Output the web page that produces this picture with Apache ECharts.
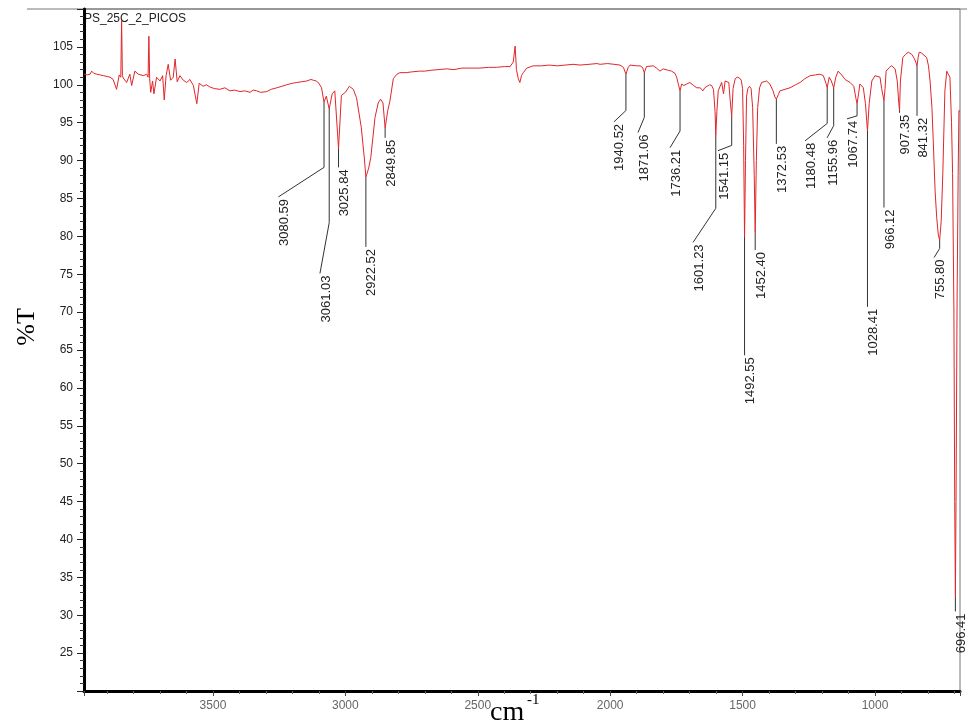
<!DOCTYPE html>
<html>
<head>
<meta charset="utf-8">
<script src="https://cdn.jsdelivr.net/npm/echarts@6/dist/echarts.min.js"></script>
<style>html,body{margin:0;padding:0;background:#fff;}#chart{width:967px;height:727px;}</style>
</head>
<body>
<div id="chart"></div>
<script>
// ---------- DATA ----------
var chartTitle = 'PS_25C_2_PICOS';
var yAxisTitle = '%T';
var xAxisTitleMain = 'cm';
var xAxisTitleSup = '-1';

var wavenumbers = [
3987,3975,3964,3958,3950,3939,3926,3914,3900,3889,3877,3864,3854,3848,3845,3842,3839,3826,3814,3807,
3795,3782,3763,3750,3745,3742,3739,3735,3728,3723,3713,3700,3690,3684,3677,3669,3660,3650,3643,3635,
3625,3612,3599,3587,3574,3561,3552,3537,3525,3511,3495,3474,3455,3436,3418,3398,3380,3360,3348,3335,
3320,3297,3280,3259,3240,3222,3200,3184,3165,3146,3130,3121,3110,3100,3090,3080.59,3072,3061.03,3050,3040,
3025.84,3015,3000,2985,2970,2958,2940,2928,2922.52,2912,2904,2888,2876,2867,2858,2849.85,2840,2832,2819,2805,
2794,2770,2750,2720,2700,2680,2650,2617,2590,2560,2530,2492,2460,2430,2400,2378,2366,2359,2354,2347,
2341,2335,2328,2315,2291,2260,2230,2200,2170,2140,2114,2080,2050,2038,2010,1985,1963,1950,1940.52,1932,
1925,1900,1887,1878,1871.06,1863,1856,1837,1825,1812,1800,1793,1780,1768,1755,1749,1742,1736.21,1730,1722,
1711,1699,1685,1673,1660,1650,1643,1636,1625,1617,1610,1604,1601.23,1597,1592,1585,1579,1572,1566,1560,
1552,1547,1541.15,1536,1528,1520,1512,1505,1500,1496,1492.55,1489,1485,1480,1474,1468,1462,1456,1452.40,1448,
1443,1436,1428,1409,1397,1385,1378,1372.53,1365,1359,1340,1321,1300,1283,1265,1245,1225,1208,1195,1185,
1180.48,1173,1165,1155.96,1148,1139,1126,1113,1094,1080,1072,1067.74,1062,1057,1050,1044,1036,1028.41,1022,1012,
1000,994,981,975,966.12,962,958,945,937,924,916,910,907.35,904,895,885,874,861,852,845,
841.32,837,833,825,818,805,798,792,785,780,773,767,761,755.80,750,744,736,729,722,717,
711,707,702,699,696.41,694,690,686,683,679
];
var transmittance = [
101.4,101.3,101.4,101.8,101.5,101.4,101.3,101.2,101.1,101.0,100.7,99.4,101.3,101.0,108.5,101.2,100.9,100.3,101.4,99.9,
101.8,101.4,101.2,101.4,101.0,106.4,100.8,99.0,100.5,98.8,101.0,100.5,101.2,98.0,101.2,102.7,100.6,101.0,103.4,100.4,
101.2,100.6,100.3,100.7,99.9,97.5,100.2,99.8,100.0,99.7,99.5,99.4,99.6,99.2,99.3,99.1,99.2,99.0,99.3,99.2,
99.0,99.1,99.4,99.6,99.8,100.0,100.2,100.3,100.4,100.5,100.7,100.6,100.5,100.2,99.6,97.7,98.5,96.8,98.8,99.2,
91.6,98.6,99.0,99.8,99.4,98.3,94.4,90.2,87.8,89.0,90.4,95.7,97.6,98.1,97.6,94.3,96.6,97.8,100.8,101.4,
101.6,101.6,101.7,101.8,101.8,101.9,102.0,102.1,102.0,102.2,102.2,102.2,102.3,102.3,102.4,102.4,103.0,105.1,102.0,100.8,
100.3,101.2,101.6,102.2,102.5,102.5,102.6,102.5,102.6,102.7,102.6,102.7,102.8,102.7,102.8,102.7,102.6,102.3,101.4,102.3,
102.6,102.5,102.5,102.3,101.6,102.4,102.6,102.5,102.2,101.8,102.1,102.1,101.9,101.8,101.5,101.0,100.0,99.2,100.1,99.9,
100.1,100.3,99.9,99.6,99.6,99.2,99.6,99.6,100.0,99.9,99.4,96.5,93.3,96.5,99.2,99.8,100.3,98.8,100.5,100.7,
100.3,98.0,95.8,99.5,100.8,101.0,100.9,100.6,99.5,92.0,79.9,90.0,98.5,99.5,99.8,99.5,97.0,88.0,80.5,90.0,
97.0,99.6,100.3,100.5,100.1,99.2,98.4,98.1,98.7,99.2,99.4,99.6,100.0,100.3,100.8,101.2,101.3,101.4,101.2,100.2,
99.6,101.0,100.5,99.6,101.0,101.8,101.3,100.7,100.3,99.8,98.2,97.5,98.8,100.1,100.0,99.6,97.5,93.9,97.5,100.5,
101.2,101.4,101.0,99.5,97.9,99.5,101.8,102.3,102.5,102.1,100.5,97.5,96.6,100.5,103.6,104.0,104.3,104.0,103.5,102.9,
102.5,103.6,104.3,104.2,104.1,103.6,102.5,100.5,97.0,92.6,86.0,82.5,80.2,79.5,82.0,88.2,99.2,101.8,101.3,101.0,
95.0,88.3,70.0,45.0,32.5,45.0,71.6,88.0,96.6,96.5
];

var peakLabels = ['3080.59','3061.03','3025.84','2922.52','2849.85','1940.52','1871.06','1736.21','1601.23','1541.15',
'1492.55','1452.40','1372.53','1180.48','1155.96','1067.74','1028.41','966.12','907.35','841.32','755.80','696.41'];
var peakWavenumbers = [3080.59,3061.03,3025.84,2922.52,2849.85,1940.52,1871.06,1736.21,1601.23,1541.15,
1492.55,1452.40,1372.53,1180.48,1155.96,1067.74,1028.41,966.12,907.35,841.32,755.80,696.41];

var xTickLabels = [1000,1500,2000,2500,3000,3500];
var yTickLabels = [25,30,35,40,45,50,55,60,65,70,75,80,85,90,95,100,105];

// ---------- LEADER LAYOUT (annotation placement, in axis units) ----------
var leaderKinkY   = [89.1,81.8,89.1,78.6,93.0,96.6,95.7,93.9,83.7,92.0,64.3,78.2,92.2,94.9,94.6,95.9,70.7,83.8,96.3,95.9,78.4,30.5];
var leaderEndX    = [3253,3096,3025.84,2922.52,2849.85,1986,1895,1774,1687,1593,1492.55,1452.40,1372.53,1264,1181,1106,1028.41,966.12,907.35,841.32,777,696.41];
var leaderEndY    = [85.2,75.1,89.1,78.6,93.0,95.1,93.7,91.7,79.2,91.3,64.3,78.2,92.2,92.6,93.0,95.5,70.7,83.8,96.3,95.9,77.2,30.5];

// ---------- BUILD ----------
var spectrum = wavenumbers.map(function (w, i) { return [w, transmittance[i]]; });
var annot = peakWavenumbers.map(function (w, i) {
  var idx = wavenumbers.indexOf(w);
  var v = idx >= 0 ? transmittance[idx] : 100;
  return [w, v, leaderKinkY[i], leaderEndX[i], leaderEndY[i]];
});

var chart = echarts.init(document.getElementById('chart'), null, {renderer: 'canvas'});
var sans = '"Liberation Sans", Arial, sans-serif';
var serif = '"Liberation Serif", "Times New Roman", serif';

chart.setOption({
  animation: false,
  backgroundColor: '#ffffff',
  grid: {left: 84, right: 7, top: 9, bottom: 36, show: true, borderColor: '#777', borderWidth: 1, outerBoundsMode: 'none', containLabel: false},
  xAxis: {
    type: 'value', inverse: true, min: 679, max: 3987, splitNumber: 6,
    axisLine: {show: true, onZero: false, lineStyle: {color: '#000', width: 3}},
    axisTick: {show: true, length: 5, lineStyle: {color: '#444'}},
    minorTick: {show: true, splitNumber: 5, length: 3, lineStyle: {color: '#666'}},
    splitLine: {show: false},
    axisLabel: {
      showMinLabel: false, showMaxLabel: false, margin: 9, color: '#666', fontSize: 12, fontFamily: sans,
      formatter: function (v) { return xTickLabels.indexOf(v) >= 0 ? String(v) : ''; }
    }
  },
  yAxis: {
    type: 'value', min: 20, max: 110, interval: 5,
    axisLine: {show: true, onZero: false, lineStyle: {color: '#000', width: 3}},
    axisTick: {show: true, length: 7, lineStyle: {color: '#222'}},
    minorTick: {show: true, splitNumber: 5, length: 4, lineStyle: {color: '#333'}},
    splitLine: {show: false},
    axisLabel: {
      margin: 11, color: '#222', fontSize: 12, fontFamily: sans,
      formatter: function (v) { return yTickLabels.indexOf(v) >= 0 ? String(v) : ''; }
    }
  },
  graphic: [
    {type: 'line', shape: {x1: 27, y1: 9, x2: 967, y2: 9}, style: {stroke: '#777', lineWidth: 1}},
    {type: 'text', x: 84, y: 13, style: {text: chartTitle, font: '12px ' + sans, fill: '#222'}},
    {type: 'text', x: 27, y: 327, rotation: Math.PI / 2, style: {text: yAxisTitle, font: '26px ' + serif, fill: '#000', align: 'center', verticalAlign: 'middle'}},
    {type: 'text', x: 490, y: 727, style: {text: xAxisTitleMain, font: '28px ' + serif, fill: '#000', align: 'left', verticalAlign: 'bottom'}},
    {type: 'text', x: 527, y: 693, style: {text: xAxisTitleSup, font: '15px ' + serif, fill: '#000', align: 'left', verticalAlign: 'top'}}
  ],
  series: [
    {
      type: 'line', data: spectrum, showSymbol: false, symbol: 'none', smooth: false,
      lineStyle: {color: '#e0262b', width: 1}, z: 3, silent: true
    },
    {
      type: 'custom', data: annot, z: 4, silent: true, clip: false,
      encode: {x: [0, 3], y: [1, 2, 4]},
      renderItem: function (params, api) {
        var p0 = api.coord([api.value(0), api.value(1)]);
        var p1 = api.coord([api.value(0), api.value(2)]);
        var p2 = api.coord([api.value(3), api.value(4)]);
        return {
          type: 'group',
          children: [
            {type: 'polyline', shape: {points: [p0, p1, p2]}, style: {stroke: '#333', lineWidth: 1, fill: 'none'}},
            {type: 'text', x: p2[0] + 6, y: p2[1] + 2, rotation: Math.PI / 2,
             style: {text: peakLabels[params.dataIndex], font: '13px ' + sans, fill: '#222', align: 'right', verticalAlign: 'middle'}}
          ]
        };
      }
    }
  ]
});
</script>
</body>
</html>
